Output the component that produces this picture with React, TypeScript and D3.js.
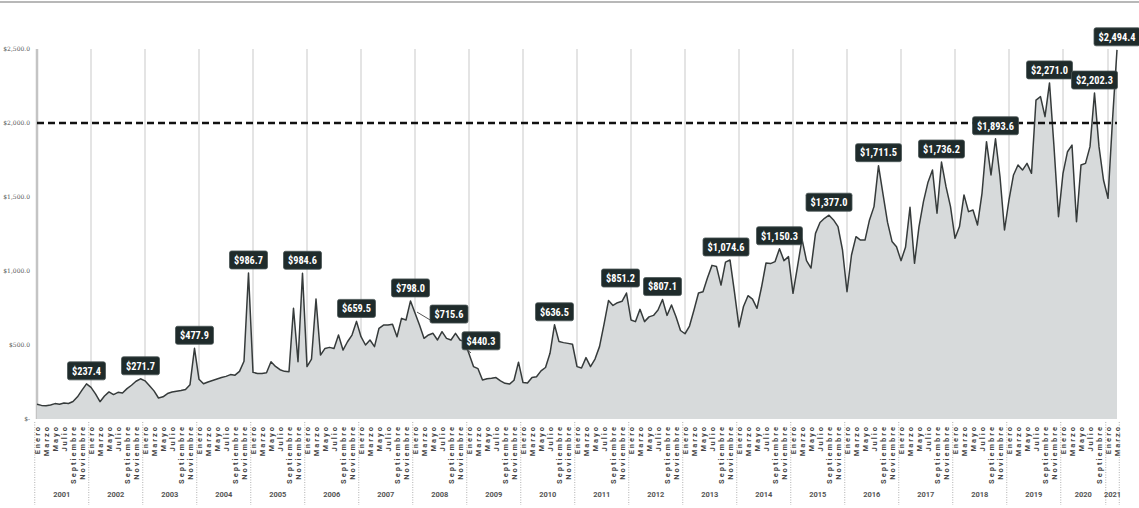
import React from "react";
import * as d3 from "d3";

const monthNames = ["Enero", "Febrero", "Marzo", "Abril", "Mayo", "Junio", "Julio", "Agosto", "Septiembre", "Octubre", "Noviembre", "Diciembre"];
const years = [2001, 2002, 2003, 2004, 2005, 2006, 2007, 2008, 2009, 2010, 2011, 2012, 2013, 2014, 2015, 2016, 2017, 2018, 2019, 2020, 2021];
const monthsPerYear = [12, 12, 12, 12, 12, 12, 12, 12, 12, 12, 12, 12, 12, 12, 12, 12, 12, 12, 12, 10, 3];

const v2001 = [100, 92, 90, 95, 104, 100, 108, 105, 118, 150, 195, 237.4];
const v2002 = [214, 170, 117, 155, 183, 165, 180, 176, 205, 228, 255, 271.7];
const v2003 = [258, 225, 190, 142, 150, 172, 182, 188, 192, 200, 232, 477.9];
const v2004 = [268, 238, 250, 260, 270, 280, 288, 300, 296, 322, 390, 986.7];
const v2005 = [315, 308, 308, 312, 387, 355, 333, 322, 320, 748, 387, 984.6];
const v2006 = [354, 405, 810, 432, 477, 484, 477, 567, 466, 522, 567, 659.5];
const v2007 = [556, 500, 534, 489, 613, 635, 635, 640, 556, 680, 669, 798.0];
const v2008 = [715.6, 635, 545, 568, 579, 534, 590, 545, 534, 579, 534, 523];
const v2009 = [440.3, 354, 340, 264, 272, 275, 280, 258, 241, 236, 262, 384];
const v2010 = [246, 243, 280, 286, 325, 348, 444, 636.5, 523, 516, 511, 505];
const v2011 = [354, 345, 415, 354, 405, 489, 640, 800, 767, 786, 795, 851.2];
const v2012 = [669, 658, 741, 658, 690, 700, 736, 807.1, 700, 770, 691, 598];
const v2013 = [576, 628, 736, 851, 860, 955, 1038, 1030, 905, 1060, 1074.6, 855];
const v2014 = [622, 760, 833, 810, 748, 890, 1054, 1050, 1063, 1150.3, 1070, 1097];
const v2015 = [849, 1030, 1215, 1070, 1020, 1254, 1328, 1356, 1377.0, 1345, 1300, 1142];
const v2016 = [860, 1108, 1232, 1209, 1209, 1345, 1435, 1711.5, 1520, 1330, 1200, 1164];
const v2017 = [1070, 1160, 1430, 1052, 1300, 1470, 1600, 1682, 1390, 1736.2, 1570, 1435];
const v2018 = [1221, 1300, 1514, 1401, 1412, 1311, 1525, 1874, 1649, 1893.6, 1637, 1277];
const v2019 = [1480, 1649, 1716, 1682, 1727, 1660, 2155, 2178, 2043, 2271.0, 1840, 1367];
const v2020 = [1660, 1806, 1851, 1333, 1716, 1727, 1840, 2202.3, 1840, 1615];
const v2021 = [1491, 2020, 2494.4];

const values = [
  ...v2001, ...v2002, ...v2003, ...v2004, ...v2005, ...v2006, ...v2007, ...v2008, ...v2009, ...v2010, ...v2011,
  ...v2012, ...v2013, ...v2014, ...v2015, ...v2016, ...v2017, ...v2018, ...v2019, ...v2020, ...v2021,
];

const yTicks = [0, 500, 1000, 1500, 2000, 2500];
const yTickLabels = ["$-", "$500.0", "$1,000.0", "$1,500.0", "$2,000.0", "$2,500.0"];
const referenceValue = 2000;
const calloutIdx = [11, 23, 35, 47, 59, 71, 83, 84, 96, 115, 131, 139, 154, 165, 176, 187, 201, 213, 225, 235, 240];

const categories: string[] = [];
const catMonth: number[] = [];
years.forEach((yr, k) => {
  for (let m = 0; m < monthsPerYear[k]; m++) {
    categories.push(`${monthNames[m]} ${yr}`);
    catMonth.push(m);
  }
});

// layout tweaks for a few callouts (pixels)
const calloutShift: Record<number, { dx: number; dy: number; leader?: boolean }> = {
  84: { dx: 34, dy: 14, leader: true },
  96: { dx: 12, dy: 0, leader: true },
  131: { dx: -6, dy: -2 },
  154: { dx: -4, dy: 0 },
};

export default function App() {
  const W = 1139;
  const H = 508;
  const x = d3.scalePoint<string>().domain(categories).range([37, 1117]);
  const y = d3.scaleLinear().domain([0, 2500]).range([419, 49]);
  const step = x.step();
  const px = (i: number) => x(categories[i]) as number;

  const area = d3
    .area<number>()
    .x((_, i) => px(i))
    .y0(y(0))
    .y1((d) => y(d));
  const line = d3
    .line<number>()
    .x((_, i) => px(i))
    .y((d) => y(d));

  const fmt = d3.format("$,.1f");

  const yearStarts: number[] = [];
  categories.forEach((_, i) => {
    if (catMonth[i] === 0) yearStarts.push(i);
  });

  const labelFont = "'Roboto Condensed','Liberation Sans Narrow','DejaVu Sans Condensed',Roboto,sans-serif";

  return (
    <div style={{ position: "absolute", left: 0, top: 0, width: W, height: H, background: "#fff" }}>
      <svg width={W} height={H} style={{ display: "block" }}>
        <rect x={0} y={0} width={W} height={H} fill="#fff" />
        <line x1={0} x2={W} y1={2} y2={2} stroke="#a0a0a0" strokeWidth={1.5} />

        {/* vertical year gridlines */}
        {yearStarts.map((i) => (
          <line
            key={"g" + i}
            x1={px(i)}
            x2={px(i)}
            y1={y(2500)}
            y2={y(0)}
            stroke={i === 0 ? "#c4c4c4" : "#d2d2d2"}
            strokeWidth={i === 0 ? 2.5 : 1.2}
          />
        ))}

        {/* area and line */}
        <path d={area(values) || ""} fill="#d7dadb" />
        <path d={line(values) || ""} fill="none" stroke="#363b3b" strokeWidth={1.5} strokeLinejoin="round" />

        {/* reference dashed line */}
        <line
          x1={px(0)}
          x2={px(values.length - 1)}
          y1={y(referenceValue)}
          y2={y(referenceValue)}
          stroke="#111"
          strokeWidth={2.6}
          strokeDasharray="7 4"
        />

        {/* y axis labels */}
        {yTicks.map((t, k) => (
          <text
            key={"yt" + t}
            x={30}
            y={y(t)}
            dy="0.35em"
            textAnchor="end"
            fontSize={6}
            fontFamily="'DejaVu Serif', serif"
            fill="#555"
          >
            {yTickLabels[k]}
          </text>
        ))}

        {/* month labels */}
        {categories.map((c, i) =>
          catMonth[i] % 2 === 0 ? (
            <text
              key={"m" + i}
              transform={`translate(${px(i)},425) rotate(-90)`}
              textAnchor="end"
              dy="0.35em"
              fontSize={7.5}
              fontWeight={700}
              letterSpacing={2}
              fontFamily="Roboto, sans-serif"
              fill="#444"
            >
              {monthNames[catMonth[i]]}
            </text>
          ) : null
        )}

        {/* year separators and labels */}
        {yearStarts.map((i, k) => {
          const start = px(i) - step / 2;
          const lastIdx = i + monthsPerYear[k] - 1;
          const end = px(lastIdx) + step / 2;
          return (
            <g key={"yr" + i}>
              <line x1={start} x2={start} y1={422} y2={505} stroke="#b0b0b0" strokeWidth={1} strokeDasharray="1 1.5" />
              {k === years.length - 1 ? (
                <line x1={end} x2={end} y1={422} y2={505} stroke="#b0b0b0" strokeWidth={1} strokeDasharray="1 1.5" />
              ) : null}
              <text
                x={(start + end) / 2}
                y={497}
                textAnchor="middle"
                fontSize={7.5}
                fontWeight={700}
                fontFamily="Roboto, sans-serif"
                fill="#555"
              >
                {years[k]}
              </text>
            </g>
          );
        })}

        {/* callouts */}
        {calloutIdx.map((i) => {
          const v = values[i];
          const txt = fmt(v);
          const n = txt.length;
          const bw = 14 + 4 * n;
          const bh = 18;
          const sh = calloutShift[i] || { dx: 0, dy: 0 };
          const cx = px(i) + sh.dx;
          const by = y(v) - 4 - bh + sh.dy;
          return (
            <g key={"c" + i}>
              {sh.leader ? (
                <line
                  x1={px(i) + 2}
                  y1={y(v) - 1}
                  x2={cx - bw / 2 + 2}
                  y2={by + bh - 2}
                  stroke="#555"
                  strokeWidth={1}
                />
              ) : null}
              <rect x={cx - bw / 2} y={by} width={bw} height={bh} rx={2} fill="#1f2b2b" stroke="#4a5555" strokeWidth={0.8} />
              <text
                x={cx}
                y={by + bh / 2}
                dy="0.36em"
                textAnchor="middle"
                fontSize={10.5}
                fontWeight={700}
                fontFamily={labelFont}
                fill="#fff"
                textLength={bw - 9}
                lengthAdjust="spacingAndGlyphs"
              >
                {txt}
              </text>
            </g>
          );
        })}
      </svg>
    </div>
  );
}
